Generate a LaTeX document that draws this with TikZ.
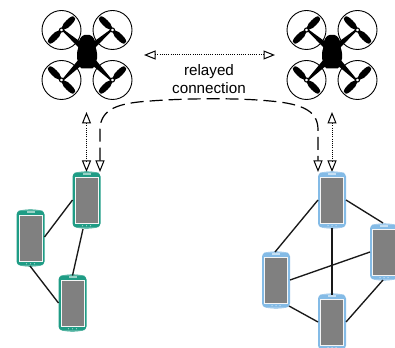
\documentclass[tikz,border=0pt]{standalone}
\usepackage{fontspec}
\setmainfont{Liberation Sans}
\usetikzlibrary{arrows.meta}
\definecolor{pgreen}{HTML}{1F9C85}
\definecolor{pblue}{HTML}{84BBE6}
\definecolor{pscreen}{HTML}{808080}
\tikzset{
  phonebody/.style={draw=none,fill=#1,rounded corners=4pt,minimum width=28pt,minimum height=55pt,inner sep=0pt,outer sep=0pt},
  link/.style={line width=1.35pt,black!90},
  relay/.style={line width=1pt,dash pattern=on 1pt off 1.2pt,{Triangle[open,length=11.5pt,width=9pt,line width=1pt]}-{Triangle[open,length=11.5pt,width=9pt,line width=1pt]}},
  relaydash/.style={line width=1.2pt,dash pattern=on 13pt off 6pt,{Triangle[open,length=11.5pt,width=9pt,line width=1pt]}-{Triangle[open,length=11.5pt,width=9pt,line width=1pt]}},
  ring/.style={draw=black,line width=0.9pt,fill=white,circle,minimum size=39pt,inner sep=0pt},
  hub/.style={draw=black,line width=1.1pt,fill=white,circle,minimum size=4pt,inner sep=0pt},
  caption/.style={font=\fontsize{15.2}{18}\selectfont,align=center,inner sep=0pt},
}
% name, centre, colour
\newcommand{\phonedev}[3]{%
  \node[phonebody=#3] (#1) at (#2) {};
  \fill[#3] ([xshift=2pt]#1.north west) .. controls ([yshift=1.5pt]#1.north) and ([yshift=1.5pt]#1.north) .. ([xshift=-2pt]#1.north east) -- cycle;
  \fill[#3] ([xshift=2pt]#1.south west) .. controls ([yshift=-1.5pt]#1.south) and ([yshift=-1.5pt]#1.south) .. ([xshift=-2pt]#1.south east) -- cycle;
  \fill[white!92!gray] ([shift={(-12pt,-23.5pt)}]#1.center) rectangle ([shift={(12pt,23.5pt)}]#1.center);
  \fill[pscreen] ([shift={(-11pt,-22.5pt)}]#1.center) rectangle ([shift={(11pt,22.5pt)}]#1.center);
  \fill[white,opacity=.55] ([shift={(-4pt,25.5pt)}]#1.center) rectangle ([shift={(4pt,26.7pt)}]#1.center);
  \foreach \dx in {-4,0,4}{\fill[white,opacity=.6] ([shift={(\dx pt,-25.7pt)}]#1.center) circle (.7pt);}
}
\newcommand{\bladepair}[5]{% name, x, y, dirx, diry
  \node[ring] (#1) at (#2,#3) {};
  \begin{scope}[shift={(#2,#3)}]
    \fill[black,cm={#4,#5,-#5,#4,(0,0)}] (0,-.8) -- (6,-3) .. controls (12,-3.6) and (17,-3) .. (18,-1.4) -- (18,1.4) .. controls (17,3) and (12,3.6) .. (6,3) -- (0,.8) -- (-6,3) .. controls (-12,3.6) and (-17,3) .. (-18,1.4) -- (-18,-1.4) .. controls (-17,-3) and (-12,-3.6) .. (-6,-3) -- cycle;
  \end{scope}
}
\newcommand{\drone}[2]{% name, body centre x
  \bladepair{#1a}{#2-25.5}{30}{.707}{.707}
  \bladepair{#1b}{#2+25.5}{30}{.707}{-.707}
  \bladepair{#1d}{#2-25.5}{80}{.707}{-.707}
  \bladepair{#1e}{#2+25.5}{80}{.707}{.707}
  \fill (#2-24.5,31) -- (#2-23.5,29.5) -- (#2-5,43) -- (#2-8,48) -- cycle;
  \fill (#2+24.5,31) -- (#2+23.5,29.5) -- (#2+5,43) -- (#2+8,48) -- cycle;
  \fill (#2-24.5,79) -- (#2-23.5,80.5) -- (#2-5,65) -- (#2-8,59) -- cycle;
  \fill (#2+24.5,79) -- (#2+23.5,80.5) -- (#2+5,65) -- (#2+8,59) -- cycle;
  \node[hub] at (#1a.center) {};\node[hub] at (#1b.center) {};\node[hub] at (#1d.center) {};\node[hub] at (#1e.center) {};
  \fill[black,rounded corners=1.5pt] (#2-4,35) -- (#2+4,35) -- (#2+8,40) -- (#2+8.5,47) -- (#2+10,52) -- (#2+10,60) -- (#2+7,64) -- (#2+7,68.5) -- (#2-7,68.5) -- (#2-7,64) -- (#2-10,60) -- (#2-10,52) -- (#2-8.5,47) -- (#2-8,40) -- cycle;
}
\begin{document}
\begin{tikzpicture}[x=1pt,y=-1pt]
\useasboundingbox (0,0) rectangle (395,347);
\drone{l}{87}
\drone{r}{332}
\coordinate (lpa) at (86.5,112);
\coordinate (lpb) at (86.5,172);
\coordinate (rpa) at (332,112);
\coordinate (rpb) at (332,172);
\coordinate (ha) at (144,55);
\coordinate (hb) at (275,55);
\coordinate (da) at (100,172);
\coordinate (db) at (318,172);
\draw[relay] (ha) -- (hb);
\draw[relay] (lpa) -- (lpb);
\draw[relay] (rpa) -- (rpb);
\node[caption] (cap) at (209,79) {relayed\\[0pt]connection};
\draw[relaydash] (da) -- (100,130) .. controls (100,108) and (120,103) .. (150,101) .. controls (190,98) and (240,98) .. (270,101) .. controls (305,104) and (318,112) .. (318,130) -- (db);
\phonedev{ga}{86.5,200}{pgreen}
\phonedev{gb}{30.5,238}{pgreen}
\phonedev{gc}{72.5,303}{pgreen}
\phonedev{ba}{332,200}{pblue}
\phonedev{bb}{276,280}{pblue}
\phonedev{bc}{332,322}{pblue}
\phonedev{bd}{384,252}{pblue}
\draw[link] (ga.west) -- (gb.east |- 0,237);
\draw[link] (83,229) -- (gc.north);
\draw[link] (30,266) -- (gc.west);
\draw[link] (ba.west) -- (275,252);
\draw[link] (ba.east) -- (383,223);
\draw[link] (ba.south) -- (bc.north);
\draw[link] (bb.east) -- (bd.west);
\draw[link] (289,306) -- (bc.west);
\draw[link] (bc.east) -- (383,280);
\end{tikzpicture}
\end{document}
